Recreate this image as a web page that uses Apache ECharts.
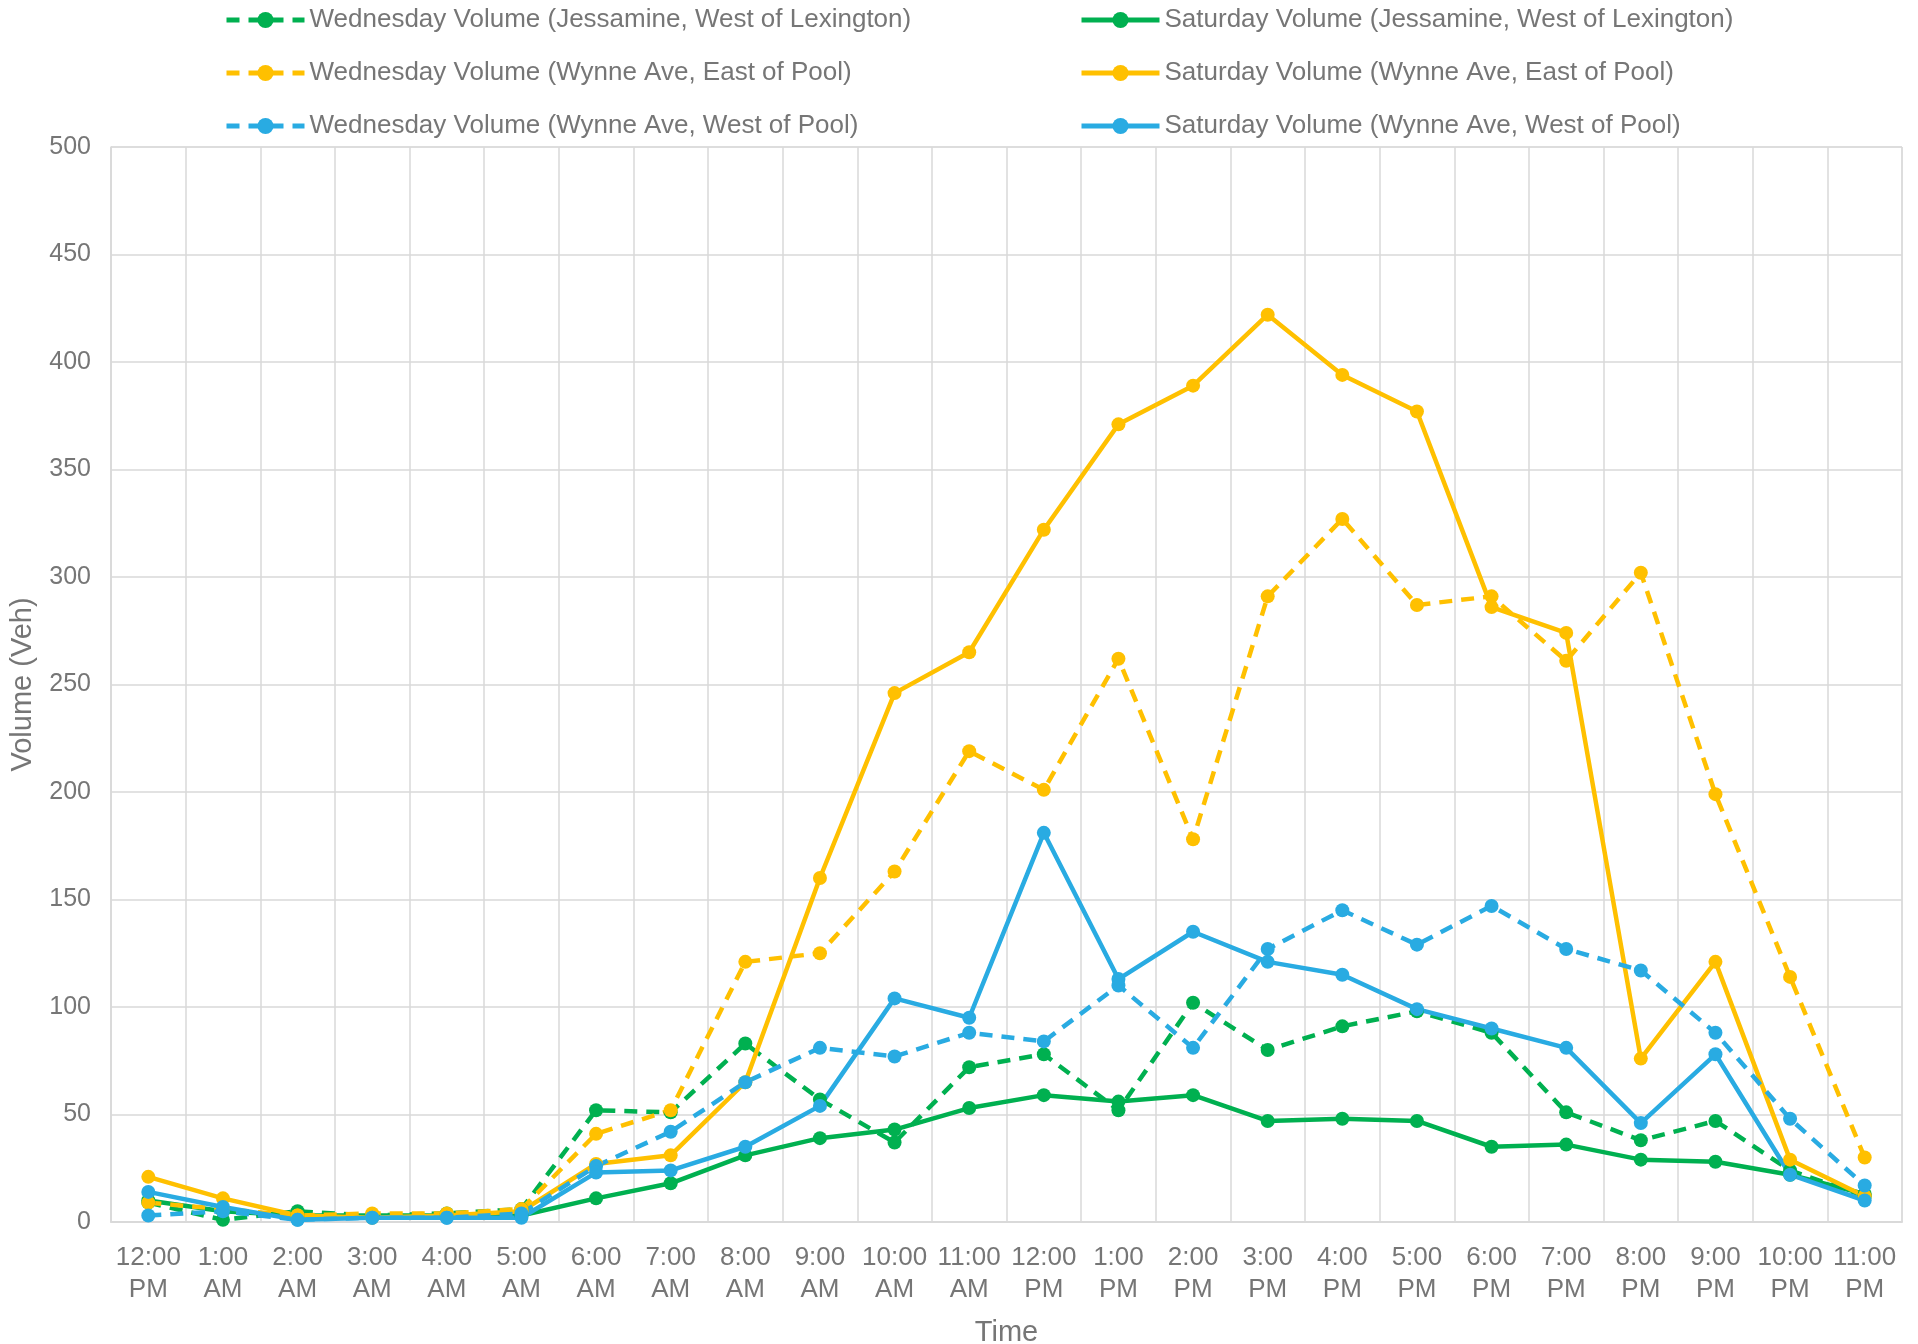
<!DOCTYPE html>
<html>
<head>
<meta charset="utf-8">
<script src="https://cdn.jsdelivr.net/npm/echarts@6/dist/echarts.min.js"></script>
<style>
  html, body { margin: 0; padding: 0; background: #fff; }
  #main { width: 1918px; height: 1344px; }
</style>
</head>
<body>
<div id="main"></div>
<script>
var hours = ['12:00 PM', '1:00 AM', '2:00 AM', '3:00 AM', '4:00 AM', '5:00 AM', '6:00 AM', '7:00 AM',
    '8:00 AM', '9:00 AM', '10:00 AM', '11:00 AM', '12:00 PM', '1:00 PM', '2:00 PM', '3:00 PM',
    '4:00 PM', '5:00 PM', '6:00 PM', '7:00 PM', '8:00 PM', '9:00 PM', '10:00 PM', '11:00 PM']

// weekday counts
var wedJessamine = [9, 1, 5, 3, 4, 6, 52, 51, 83, 57, 37, 72, 78, 52, 102, 80, 91, 98, 88, 51, 38, 47, 24, 12]
var wedWynneEast = [9, 6, 3, 4, 4, 6, 41, 52, 121, 125, 163, 219, 201, 262, 178, 291, 327, 287, 291, 261, 302, 199, 114, 30]
var wedWynneWest = [3, 5, 1, 2, 2, 4, 26, 42, 65, 81, 77, 88, 84, 110, 81, 127, 145, 129, 147, 127, 117, 88, 48, 17]

// saturday counts
var satJessamine = [10, 5, 3, 3, 3, 3, 11, 18, 31, 39, 43, 53, 59, 56, 59, 47, 48, 47, 35, 36, 29, 28, 22, 13]
var satWynneEast = [21, 11, 3, 2, 3, 5, 27, 31, 65, 160, 246, 265, 322, 371, 389, 422, 394, 377, 286, 274, 76, 121, 29, 12]
var satWynneWest = [14, 7, 1, 2, 2, 2, 23, 24, 35, 54, 104, 95, 181, 113, 135, 121, 115, 99, 90, 81, 46, 78, 22, 10]

var yTicks = { min: 0, max: 500, step: 50 }

var green = '#00B050'
var yellow = '#FFC000'
var blue = '#29ABE2'
var grey = '#767676'
var font = '"Liberation Sans", Arial, sans-serif'

function makeLine(name, data, color, dashed) {
    return {
        name: name,
        type: 'line',
        data: data,
        symbol: 'circle',
        symbolSize: 14,
        itemStyle: { color: color },
        lineStyle: { color: color, width: 4.5, type: dashed ? [13, 9] : 'solid' },
        emphasis: { disabled: true }
    }
}

var chart = echarts.init(document.getElementById('main'))

var legendText = { color: grey, fontSize: 26, fontFamily: font, lineHeight: 26 }

function makeLegend(left, names) {
    return {
        orient: 'vertical',
        left: left,
        top: 2,
        itemWidth: 78,
        itemHeight: 20,
        itemGap: 27,
        textStyle: legendText,
        lineStyle: { width: 5 },
        data: names
    }
}

var option = {
    backgroundColor: '#fff',
    animation: false,
    legend: [
        makeLegend(219, ['Wednesday Volume (Jessamine, West of Lexington)', 'Wednesday Volume (Wynne Ave, East of Pool)', 'Wednesday Volume (Wynne Ave, West of Pool)']),
        makeLegend(1074, ['Saturday Volume (Jessamine, West of Lexington)', 'Saturday Volume (Wynne Ave, East of Pool)', 'Saturday Volume (Wynne Ave, West of Pool)'])
    ],
    grid: {
        left: 111,
        right: 16,
        top: 147,
        bottom: 122,
        outerBoundsMode: 'none',
        show: true,
        borderColor: '#D9D9D9',
        borderWidth: 1
    },
    xAxis: {
        type: 'category',
        data: hours,
        boundaryGap: true,
        name: 'Time',
        nameLocation: 'middle',
        nameGap: 96,
        nameTextStyle: { color: grey, fontSize: 29, fontFamily: font },
        axisLine: { lineStyle: { color: '#D9D9D9', width: 2 } },
        axisTick: { show: false },
        splitLine: { show: true, lineStyle: { color: '#D9D9D9', width: 1.5 } },
        axisLabel: {
            interval: 0,
            color: grey,
            fontSize: 26,
            fontFamily: font,
            lineHeight: 32,
            margin: 20,
            formatter: function (v) { return v.replace(' ', '\n') }
        }
    },
    yAxis: {
        type: 'value',
        min: yTicks.min,
        max: yTicks.max,
        interval: yTicks.step,
        name: 'Volume (Veh)',
        nameLocation: 'middle',
        nameGap: 74,
        nameTextStyle: { color: grey, fontSize: 29, fontFamily: font },
        axisLine: { show: true, lineStyle: { color: '#D9D9D9', width: 1.5 } },
        axisTick: { show: false },
        splitLine: { show: true, lineStyle: { color: '#D9D9D9', width: 1.5 } },
        axisLabel: { color: grey, fontSize: 25, fontFamily: font, margin: 20 }
    },
    series: [
        makeLine('Wednesday Volume (Jessamine, West of Lexington)', wedJessamine, green, true),
        makeLine('Saturday Volume (Jessamine, West of Lexington)', satJessamine, green, false),
        makeLine('Wednesday Volume (Wynne Ave, East of Pool)', wedWynneEast, yellow, true),
        makeLine('Saturday Volume (Wynne Ave, East of Pool)', satWynneEast, yellow, false),
        makeLine('Wednesday Volume (Wynne Ave, West of Pool)', wedWynneWest, blue, true),
        makeLine('Saturday Volume (Wynne Ave, West of Pool)', satWynneWest, blue, false)
    ]
}

chart.setOption(option)
</script>
</body>
</html>
